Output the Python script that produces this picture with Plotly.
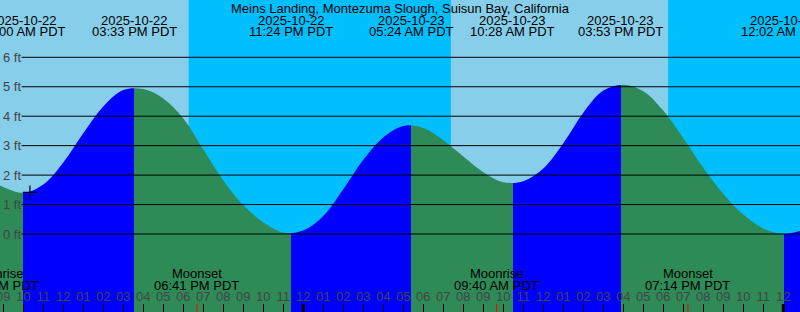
import plotly.graph_objects as go

# ---------------- data (hours counted from 2025-10-22 00:00 PDT) ----------------
title_text = "Meins Landing, Montezuma Slough, Suisun Bay, California"

# tide height at every hour (hour, feet)
tide_hours = [8, 9, 10, 11, 12, 13, 14, 15, 16, 17, 18, 19, 20, 21, 22, 23, 24,
              25, 26, 27, 28, 29, 30, 31, 32, 33, 34, 35, 36, 37, 38, 39, 40,
              41, 42, 43, 44, 45, 46, 47, 48, 49]
tide_feet = [1.92, 1.60, 1.40, 1.68, 2.43, 3.42, 4.33, 4.89, 4.92, 4.60, 3.92,
             2.87, 1.82, 0.98, 0.40, 0.05, 0.12, 0.61, 1.52, 2.52, 3.28, 3.67,
             3.60, 3.18, 2.63, 2.10, 1.76, 1.79, 2.22, 3.08, 4.12, 4.87, 5.07,
             4.85, 4.19, 3.25, 2.25, 1.36, 0.66, 0.19, 0.00, 0.14]

# high / low tide events
extreme_hours = [10.0, 15.55, 23.4, 29.4, 34.467, 39.883, 48.033]
extreme_kinds = ["L", "H", "L", "H", "L", "H", "L"]
extreme_dates = ["2025-10-22", "2025-10-22", "2025-10-22", "2025-10-23",
                 "2025-10-23", "2025-10-23", "2025-10-24"]
extreme_times = ["10:00 AM PDT", "03:33 PM PDT", "11:24 PM PDT", "05:24 AM PDT",
                 "10:28 AM PDT", "03:53 PM PDT", "12:02 AM PDT"]

# sun: daylight periods
day_periods = [(8.0, 18.27), (31.38, 42.24)]

# moon events
moon_hours = [8.65, 18.683, 33.667, 43.233]
moon_names = ["Moonrise", "Moonset", "Moonrise", "Moonset"]
moon_times = ["08:39 AM PDT", "06:41 PM PDT", "09:40 AM PDT", "07:14 PM PDT"]

# current time marker
now_hour = 10.33
now_feet = 1.41

# axes
x_range = [8.835, 48.835]
y_range = [-2.649, 7.946]
y_ticks = [0, 1, 2, 3, 4, 5, 6]
hour_ticks = list(range(9, 49))
midnights = [24, 48]

# ---------------- styles ----------------
DAY = "#87CEEB"
NIGHT = "#00BFFF"
RISE = "#0000FF"
FALL = "#2E8B57"
FONT = "Liberation Sans, Arial, sans-serif"
FS = 13

fig = go.Figure()

# fill gradient: blue while rising, green while falling
g0, g1 = tide_hours[0], tide_hours[-1]
scale = [[0.0, FALL if extreme_kinds[0] == "L" else RISE]]
for t, k in zip(extreme_hours, extreme_kinds):
    p = (t - g0) / (g1 - g0)
    before = FALL if k == "L" else RISE
    after = RISE if k == "L" else FALL
    scale.append([p, before])
    scale.append([p, after])
scale.append([1.0, scale[-1][1]])

fig.add_trace(go.Scatter(x=[g0, g1], y=[y_range[0] - 1, y_range[0] - 1],
                         mode="lines", line=dict(width=0), hoverinfo="skip"))
fig.add_trace(go.Scatter(x=tide_hours, y=tide_feet, mode="lines",
                         line=dict(width=0, shape="spline", color=FALL),
                         fill="tonexty",
                         fillgradient=dict(type="horizontal", colorscale=scale,
                                           start=g0, stop=g1),
                         hoverinfo="skip"))
fig.add_trace(go.Scatter(x=[now_hour], y=[now_feet], mode="markers",
                         marker=dict(symbol="cross-thin-open", size=10, color="black",
                                     line=dict(width=1.2, color="black")),
                         hoverinfo="skip"))

shapes = []
for a, b in day_periods:
    shapes.append(dict(type="rect", xref="x", yref="paper", x0=a, x1=b, y0=0, y1=1,
                       fillcolor=DAY, line=dict(width=0), layer="below"))
for v in y_ticks:
    shapes.append(dict(type="line", xref="paper", yref="y", x0=0.027, x1=1, y0=v, y1=v,
                       line=dict(color="black", width=1), layer="above"))
for m in midnights:
    shapes.append(dict(type="line", xref="x", yref="paper", x0=m, x1=m, y0=0, y1=8 / 312,
                       line=dict(color="black", width=3), layer="above"))
for t in moon_hours:
    if x_range[0] <= t <= x_range[1]:
        shapes.append(dict(type="line", xref="x", yref="paper", x0=t, x1=t, y0=0, y1=8 / 312,
                           line=dict(color="red", width=1), layer="above"))

ann = [dict(text=title_text, xref="paper", yref="paper", x=0.5, y=1 - 8 / 312,
            xanchor="center", yanchor="middle", showarrow=False)]
for t, d, tm in zip(extreme_hours, extreme_dates, extreme_times):
    ann.append(dict(text=d, xref="x", yref="paper", x=t, y=1 - 20 / 312,
                    xanchor="center", yanchor="middle", showarrow=False))
    ann.append(dict(text=tm, xref="x", yref="paper", x=t, y=1 - 32 / 312,
                    xanchor="center", yanchor="middle", showarrow=False))
for t, nm, tm in zip(moon_hours, moon_names, moon_times):
    px = (t - x_range[0]) / (x_range[1] - x_range[0])
    ann.append(dict(text=nm, xref="paper", yref="paper", x=px, y=1 - 273 / 312,
                    xanchor="center", yanchor="middle", showarrow=False))
    ann.append(dict(text=tm, xref="paper", yref="paper", x=px, y=1 - 285 / 312,
                    xanchor="center", yanchor="middle", showarrow=False))

fig.update_layout(
    width=800, height=312, margin=dict(l=0, r=0, t=0, b=0, autoexpand=False),
    plot_bgcolor=NIGHT, paper_bgcolor=NIGHT, showlegend=False,
    font=dict(family=FONT, size=FS, color="black"),
    shapes=shapes, annotations=ann,
    xaxis=dict(range=x_range, tickvals=hour_ticks,
               ticktext=["%02d" % ((h - 1) % 12 + 1) for h in hour_ticks],
               ticks="inside", ticklen=8, tickwidth=1, tickcolor="black",
               ticklabelposition="inside", ticklabeloverflow="allow",
               automargin=False,
               showgrid=False, zeroline=False, showline=False, fixedrange=True),
    yaxis=dict(range=y_range, tickvals=y_ticks,
               ticktext=["%d ft" % v for v in y_ticks],
               ticks="", ticklabelposition="inside", ticklabeloverflow="allow",
               automargin=False,
               showgrid=False, zeroline=False, showline=False, fixedrange=True),
)

fig.write_html("out.html")
